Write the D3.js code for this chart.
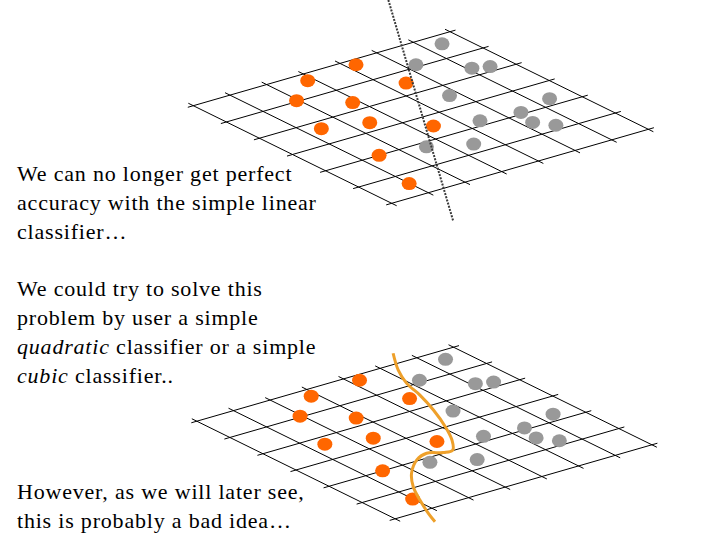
<!DOCTYPE html>
<html>
<head>
<meta charset="utf-8">
<script src="https://cdn.jsdelivr.net/npm/d3@7"></script>
<style>
  body { margin: 0; background: #fff; }
</style>
</head>
<body>
<div id="chart"></div>
<script>
// floor grid: cells from left corner to top corner (u) and to bottom corner (v)
let gridCols = 7;
let gridRows = 6;

// class 1 points (orange), floor coords [u, v]
let orangePts = [
  [4.23, 0.23], [2.84, 0.31], [4.45, 1.50], [1.95, 0.96], [2.85, 1.66],
  [1.40, 2.32], [2.44, 2.63], [3.42, 3.47], [1.46, 4.00], [0.99, 5.43]
];

// class 2 points (gray), floor coords [u, v]
let grayPts = [
  [6.44, 0.38], [5.26, 0.90], [6.10, 1.66], [6.47, 1.80], [4.76, 2.47], [6.37, 3.71],
  [5.40, 3.92], [4.40, 3.79], [5.25, 4.44], [5.55, 4.81], [2.57, 4.20], [3.48, 4.62]
];

// straight separator (top panel), floor coords
let linearSep = [[7.05, -1.92], [0.42, 7.40]];

// wiggly separator (bottom panel), floor coords
let cubicSep = [
  [5.75, -0.44], [5.25, 0.27], [4.93, 0.88], [4.75, 1.48], [4.46, 2.21], [4.08, 2.99],
  [3.73, 3.58], [3.39, 3.98], [3.14, 3.97], [2.83, 3.81], [2.43, 3.96], [1.87, 4.42],
  [1.43, 4.96], [1.08, 5.55], [0.76, 6.16], [0.58, 6.56]
];

// slide text
let textBlock1 = ["We can no longer get perfect", "accuracy with the simple linear", "classifier…"];
let textBlock2 = [
  [["We could try to solve this", false]],
  [["problem by user a simple", false]],
  [["quadratic", true], [" classifier or a simple", false]],
  [["cubic", true], [" classifier..", false]]
];
let textBlock3 = ["However, as we will later see,", "this is probably a bad idea…"];

let width = 720;
let height = 540;
let fontFam = "'Liberation Serif', Tinos, Times, 'DejaVu Serif', serif";

let svg = d3.select("#chart")
  .append("svg")
  .attr("width", width)
  .attr("height", height);

// floor projection: each grid axis maps to a screen vector
let fnUx = d3.scaleLinear().domain([0, gridCols]).range([0, 256.7]);
let fnUy = d3.scaleLinear().domain([0, gridCols]).range([0, -74]);
let fnVx = d3.scaleLinear().domain([0, gridRows]).range([0, 198.4]);
let fnVy = d3.scaleLinear().domain([0, gridRows]).range([0, 97.6]);

function project(p, org) {
  return [org[0] + fnUx(p[0]) + fnVx(p[1]), org[1] + fnUy(p[0]) + fnVy(p[1])];
}

function drawPanel(org, sep, sepStyle) {
  let g = svg.append("g");
  let over = 0.15;

  // grid lines
  let gridLines = [];
  d3.range(gridCols + 1).forEach(i => gridLines.push([[i, -over], [i, gridRows + over]]));
  d3.range(gridRows + 1).forEach(j => gridLines.push([[-over, j], [gridCols + over, j]]));

  g.selectAll(".grid")
    .data(gridLines)
    .enter()
    .append("line")
    .attr("class", "grid")
    .attr("x1", d => project(d[0], org)[0])
    .attr("y1", d => project(d[0], org)[1])
    .attr("x2", d => project(d[1], org)[0])
    .attr("y2", d => project(d[1], org)[1])
    .attr("stroke", "#000")
    .attr("stroke-width", 1);

  // points
  g.selectAll(".orange")
    .data(orangePts)
    .enter()
    .append("ellipse")
    .attr("class", "orange")
    .attr("cx", d => project(d, org)[0])
    .attr("cy", d => project(d, org)[1])
    .attr("rx", 7.5)
    .attr("ry", 6.5)
    .attr("fill", "#ff6600");

  g.selectAll(".gray")
    .data(grayPts)
    .enter()
    .append("ellipse")
    .attr("class", "gray")
    .attr("cx", d => project(d, org)[0])
    .attr("cy", d => project(d, org)[1])
    .attr("rx", 7.5)
    .attr("ry", 6.5)
    .attr("fill", "#999999");

  // separator
  let fnLine = d3.line()
    .x(d => project(d, org)[0])
    .y(d => project(d, org)[1])
    .curve(d3.curveCatmullRom);

  g.append("path")
    .datum(sep)
    .attr("d", fnLine)
    .attr("fill", "none")
    .attr("stroke", sepStyle.color)
    .attr("stroke-width", sepStyle.width)
    .attr("stroke-dasharray", sepStyle.dash);
}

drawPanel([193.3, 105.7], linearSep, { color: "#3a3a3a", width: 2, dash: "2,1.3" });
drawPanel([196.8, 421.2], cubicSep, { color: "#eea02a", width: 3, dash: null });

// text blocks
let lineHgt = 29;
let tx = 17;

// no serif face here, so spread the letters a little to keep the line widths
function styleText(sel) {
  sel.attr("font-family", fontFam)
    .attr("font-size", 22)
    .attr("letter-spacing", 0.8)
    .attr("fill", "#000");
}

svg.selectAll(".t1")
  .data(textBlock1)
  .enter()
  .append("text")
  .attr("class", "t1")
  .attr("x", tx)
  .attr("y", (d, i) => 181 + i * lineHgt)
  .call(styleText)
  .text(d => d);

let t2 = svg.selectAll(".t2")
  .data(textBlock2)
  .enter()
  .append("text")
  .attr("class", "t2")
  .attr("x", tx)
  .attr("y", (d, i) => 296 + i * lineHgt)
  .call(styleText);

t2.selectAll("tspan")
  .data(d => d)
  .enter()
  .append("tspan")
  .attr("font-style", d => d[1] ? "italic" : "normal")
  .text(d => d[0]);

svg.selectAll(".t3")
  .data(textBlock3)
  .enter()
  .append("text")
  .attr("class", "t3")
  .attr("x", tx)
  .attr("y", (d, i) => 499 + i * lineHgt)
  .call(styleText)
  .text(d => d);
</script>
</body>
</html>
